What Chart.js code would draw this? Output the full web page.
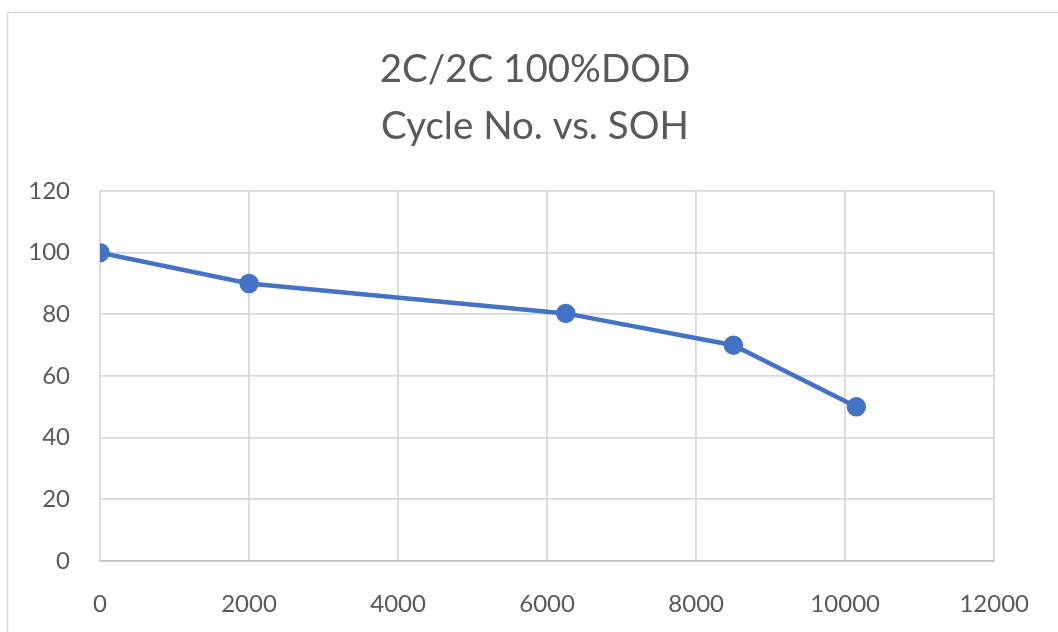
<!DOCTYPE html>
<html>
<head>
<meta charset="utf-8">
<script src="https://cdn.jsdelivr.net/npm/chart.js@4"></script>
<style>
  html, body { margin: 0; padding: 0; background: #fff; }
  #wrap { width: 1058px; height: 632px; }
</style>
</head>
<body>
<div id="wrap"><canvas id="chart" width="1058" height="632"></canvas></div>
<script>
  "use strict";

  // values
  const cycles = [0, 2000, 6250, 8500, 10150];
  const soh = [100, 90, 80.3, 70, 50];
  const titleLines = ['2C/2C 100%DOD', 'Cycle No. vs. SOH'];
  const xTicks = [0, 2000, 4000, 6000, 8000, 10000, 12000];
  const yTicks = [0, 20, 40, 60, 80, 100, 120];

  const points = cycles.map(function(c, i) { return {x: c, y: soh[i]}; });

  // light frame round the chart (only left and top edges are in view) and the two-line title
  const frame = {
    id: 'frame',
    beforeDraw: function(chart) {
      const ctx = chart.ctx;
      ctx.save();
      ctx.strokeStyle = '#d9d9d9';
      ctx.lineWidth = 1.5;
      ctx.strokeRect(7.5, 12.5, 1100, 700);
      ctx.fillStyle = '#595959';
      ctx.font = '38.5px Lato';
      ctx.textAlign = 'center';
      ctx.textBaseline = 'middle';
      ctx.fillText(titleLines[0], 535, 70);
      ctx.fillText(titleLines[1], 535, 127);
      ctx.restore();
    }
  };

  const ctx = document.getElementById('chart');
  const chart = new Chart(ctx, {
    type: 'scatter',
    data: {
      datasets: [{
        label: 'SOH',
        data: points,
        showLine: true,
        borderColor: '#4472c4',
        backgroundColor: '#4472c4',
        borderWidth: 4.5,
        pointRadius: 7.5,
        pointHoverRadius: 7.5
      }]
    },
    options: {
      responsive: false,
      animation: false,
      layout: {padding: {top: 191, left: 10, right: 57, bottom: 11}},
      plugins: {
        legend: {display: false},
        tooltip: {enabled: false},
        title: {display: false}
      },
      scales: {
        x: {
          type: 'linear',
          min: 0,
          max: 12000,
          afterBuildTicks: function(scale) { scale.ticks = xTicks.map(function(v) { return {value: v}; }); },
          afterFit: function(scale) { scale.height = 60; },
          grid: {color: '#d9d9d9', lineWidth: 1.8, drawTicks: false},
          border: {display: true, color: '#c4c4c4', width: 1.8},
          ticks: {
            color: '#595959', font: {family: 'Lato', size: 24}, padding: 29, maxRotation: 0,
            callback: function(v) { return String(v); }
          }
        },
        y: {
          type: 'linear',
          min: 0,
          max: 120,
          afterBuildTicks: function(scale) { scale.ticks = yTicks.map(function(v) { return {value: v}; }); },
          afterFit: function(scale) { scale.width = 90; },
          grid: {color: '#d9d9d9', lineWidth: 1.8, drawTicks: false},
          border: {display: false},
          ticks: {color: '#595959', font: {family: 'Lato', size: 24}, padding: 30}
        }
      }
    },
    plugins: [frame]
  });
</script>
</body>
</html>
